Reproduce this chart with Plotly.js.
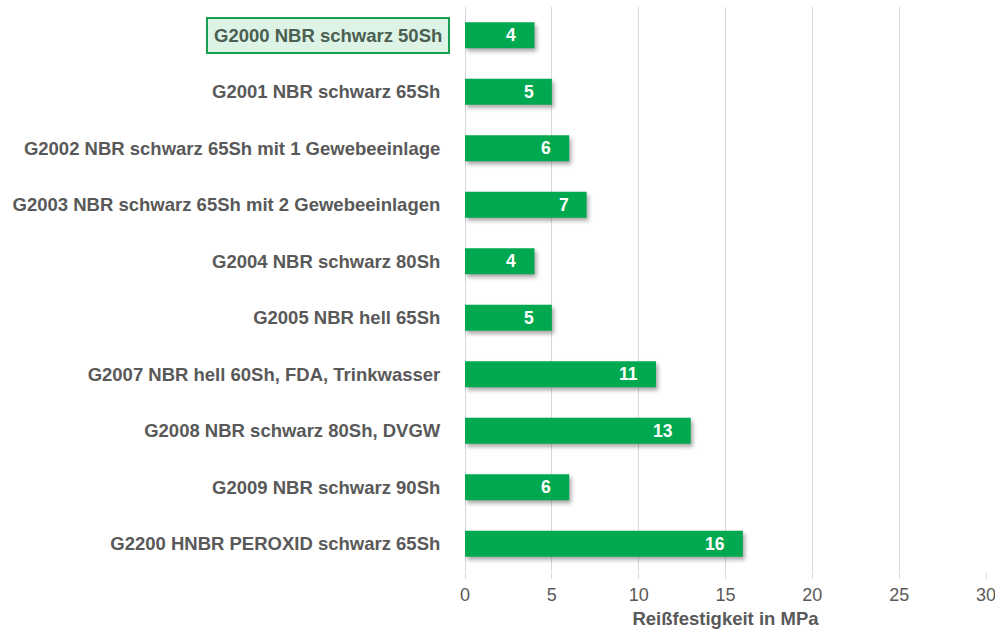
<!DOCTYPE html>
<html><head><meta charset="utf-8">
<script src="https://cdn.plot.ly/plotly-3.0.1.min.js"></script>
<style>body{margin:0;background:#fff}#c{width:995px;height:634px}
.bars .point path{filter:drop-shadow(2px 3px 2px rgba(0,0,0,0.35));}</style>
</head><body><div id="c"></div>
<script>
const categories = [
  "G2000 NBR schwarz 50Sh",
  "G2001 NBR schwarz 65Sh",
  "G2002 NBR schwarz 65Sh mit 1 Gewebeeinlage",
  "G2003 NBR schwarz 65Sh mit 2 Gewebeeinlagen",
  "G2004 NBR schwarz 80Sh",
  "G2005 NBR hell 65Sh",
  "G2007 NBR hell 60Sh, FDA, Trinkwasser",
  "G2008 NBR schwarz 80Sh, DVGW",
  "G2009 NBR schwarz 90Sh",
  "G2200 HNBR PEROXID schwarz 65Sh"
];
const values = [4, 5, 6, 7, 4, 5, 11, 13, 6, 16];
const highlighted = "G2000 NBR schwarz 50Sh";
const xTicks = [0, 5, 10, 15, 20, 25, 30];
const xTitle = "Reißfestigkeit in MPa";

const font = "'Liberation Sans', Arial, sans-serif";
const tickText = categories.map(c => c === highlighted ? "" : "<b>" + c + "</b>");

const trace = {
  type: "bar", orientation: "h",
  y: categories, x: values,
  marker: {color: "#00A94F", line: {width: 0}},
  width: 0.46,
  hoverinfo: "none"
};

const annotations = values.map((v, i) => ({
  x: v, y: categories[i], xref: "x", yref: "y",
  text: "<b>" + v + "</b>", showarrow: false,
  xanchor: "right", xshift: -16,
  font: {family: font, size: 17.5, color: "#ffffff"}
}));
annotations.push({
  x: 0, y: highlighted, xref: "paper", yref: "y",
  text: "<b>" + highlighted + "</b>", showarrow: false,
  xanchor: "right", xshift: -15,
  bgcolor: "#dcf3e5", bordercolor: "#16a04f", borderwidth: 2, borderpad: 6,
  font: {family: font, size: 18.5, color: "#4b5f52"}
});

const layout = {
  width: 995, height: 634,
  margin: {l: 465, r: 9, t: 7, b: 62},
  paper_bgcolor: "#fff", plot_bgcolor: "#fff",
  showlegend: false,
  xaxis: {
    range: [0, 30], tickvals: xTicks, ticktext: xTicks.map(String),
    showgrid: true, gridcolor: "#d9d9d9", gridwidth: 1,
    zeroline: true, zerolinecolor: "#d9d9d9", zerolinewidth: 1,
    showline: false, ticks: "outside", ticklen: 6, tickcolor: "#d9d9d9",
    ticklabeloverflow: "allow",
    tickfont: {family: font, size: 18, color: "#595959"},
    title: {text: "<b>" + xTitle + "</b>", font: {family: font, size: 18.5, color: "#595959"}, standoff: 8},
    fixedrange: true
  },
  yaxis: {
    autorange: "reversed",
    tickvals: categories, ticktext: tickText,
    showgrid: false, zeroline: false, showline: false,
    ticks: "outside", ticklen: 20, tickcolor: "rgba(0,0,0,0)",
    tickfont: {family: font, size: 18.5, color: "#595959"},
    fixedrange: true
  },
  annotations: annotations
};

Plotly.newPlot("c", [trace], layout, {displayModeBar: false, staticPlot: true});
</script></body></html>
